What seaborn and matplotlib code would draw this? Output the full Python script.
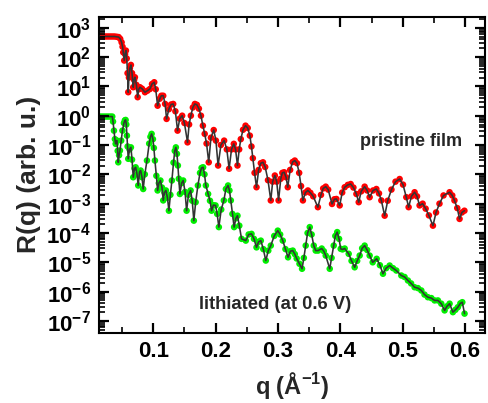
import numpy as np
import pandas as pd
import matplotlib
matplotlib.use("Agg")
import matplotlib.pyplot as plt
from matplotlib.ticker import FuncFormatter, LogLocator, MultipleLocator
import seaborn as sns

# X-ray reflectivity of the pristine and lithiated films.
# Reflectivity is given as decimal exponents (log10 R) along the scattering vector q.
q_pristine = [
    0.0135, 0.017, 0.0205, 0.024, 0.0275, 0.031, 0.0345, 0.038, 0.0415, 0.0445,
    0.047, 0.0493, 0.0508, 0.0519, 0.0535, 0.0548, 0.0562, 0.0575, 0.0588, 0.0599,
    0.061, 0.0625, 0.0642, 0.066, 0.0679, 0.0693, 0.0706, 0.073, 0.075, 0.0768,
    0.0786, 0.082, 0.0867, 0.0905, 0.0947, 0.098, 0.1016, 0.104, 0.107, 0.1105,
    0.113, 0.116, 0.119, 0.1214, 0.125, 0.1285, 0.132, 0.1355, 0.139, 0.1425,
    0.1464, 0.150, 0.155, 0.1575, 0.1603, 0.1635, 0.1667, 0.170, 0.1732, 0.1765,
    0.1796, 0.1825, 0.1855, 0.189, 0.1925, 0.197, 0.2005, 0.204, 0.2085, 0.2137,
    0.218, 0.2217, 0.2255, 0.2292, 0.232, 0.2351, 0.2378, 0.2404, 0.244, 0.248,
    0.2515, 0.2549, 0.2575, 0.2597, 0.2625, 0.2656, 0.269, 0.2725, 0.276, 0.2795,
    0.284, 0.2885, 0.2915, 0.295, 0.298, 0.301, 0.3045, 0.307, 0.310, 0.313,
    0.3157, 0.3195, 0.3235, 0.327, 0.3305, 0.334, 0.337, 0.340, 0.344, 0.348,
    0.352, 0.3565, 0.364, 0.369, 0.3725, 0.3766, 0.3805, 0.3867, 0.3905, 0.3937,
    0.399, 0.403, 0.407, 0.412, 0.4166, 0.421, 0.4258, 0.4295, 0.4335, 0.439,
    0.443, 0.447, 0.4525, 0.4578, 0.462, 0.4658, 0.4711, 0.476, 0.482, 0.4885,
    0.4951, 0.5005, 0.5058, 0.5095, 0.514, 0.5191, 0.523, 0.5271, 0.532, 0.5368,
    0.542, 0.5485, 0.5535, 0.559, 0.5655, 0.5752, 0.5795, 0.583, 0.5875, 0.5912,
    0.595, 0.599]
log_R_pristine = [
    2.70, 2.70, 2.70, 2.70, 2.70, 2.70, 2.70, 2.70, 2.69, 2.68,
    2.62, 2.50, 2.35, 2.16, 1.88, 2.10, 2.22, 1.95, 1.45, 0.80,
    1.30, 1.62, 1.73, 1.45, 0.97, 1.22, 1.31, 1.05, 0.63, 0.90,
    0.97, 0.92, 0.80, 0.85, 0.91, 1.08, 1.14, 0.90, 0.34, 0.58,
    0.68, 0.68, 0.40, -0.11, 0.22, 0.38, 0.40, 0.15, -0.51, -0.10,
    0.00, -0.25, -0.91, -0.30, 0.00, 0.28, 0.40, 0.37, 0.24, 0.00,
    -0.34, -0.62, -0.95, -1.59, -0.75, -0.49, -0.85, -1.70, -1.00, -0.85,
    -1.15, -1.81, -1.15, -0.96, -1.15, -1.70, -1.15, -0.80, -0.48, -0.34,
    -0.42, -0.68, -1.05, -1.45, -1.95, -2.44, -1.85, -1.62, -1.59, -1.75,
    -2.20, -2.89, -2.25, -2.04, -2.25, -2.89, -2.15, -1.95, -1.93, -2.10,
    -2.44, -1.85, -1.58, -1.53, -1.62, -1.95, -2.40, -2.89, -2.62, -2.55,
    -2.63, -2.75, -3.12, -2.70, -2.48, -2.42, -2.52, -3.01, -2.85, -2.84,
    -3.06, -2.62, -2.44, -2.36, -2.33, -2.45, -2.67, -2.95, -2.58, -2.42,
    -2.55, -2.78, -2.55, -2.50, -2.65, -2.89, -3.41, -2.90, -2.52, -2.25,
    -2.16, -2.35, -2.78, -3.12, -2.75, -2.61, -2.75, -3.06, -3.00, -3.17,
    -3.40, -3.75, -3.30, -3.00, -2.72, -2.61, -2.72, -2.89, -3.15, -3.52,
    -3.30, -3.24]

q_lithiated = [
    0.0135, 0.017, 0.0205, 0.024, 0.0275, 0.031, 0.0343, 0.0355, 0.037, 0.0385,
    0.0397, 0.0408, 0.0418, 0.043, 0.0439, 0.0452, 0.0466, 0.0486, 0.0506, 0.053,
    0.0545, 0.0557, 0.0568, 0.0578, 0.0589, 0.0599, 0.062, 0.0642, 0.066, 0.0679,
    0.070, 0.0718, 0.074, 0.0759, 0.078, 0.0798, 0.082, 0.0839, 0.0865, 0.0899,
    0.0935, 0.0955, 0.0974, 0.0995, 0.101, 0.1027, 0.105, 0.107, 0.109, 0.1115,
    0.114, 0.116, 0.118, 0.1203, 0.1228, 0.1251, 0.1275, 0.1299, 0.1325, 0.1345,
    0.1363, 0.138, 0.1395, 0.141, 0.1427, 0.1455, 0.148, 0.151, 0.1535, 0.1565,
    0.1599, 0.1625, 0.1651, 0.168, 0.1716, 0.175, 0.1775, 0.180, 0.1822, 0.1844,
    0.188, 0.191, 0.1935, 0.1965, 0.1999, 0.2025, 0.2052, 0.209, 0.2132, 0.2165,
    0.220, 0.2222, 0.2244, 0.227, 0.2297, 0.2325, 0.2351, 0.238, 0.2416, 0.2484,
    0.253, 0.2576, 0.2615, 0.2656, 0.269, 0.2725, 0.2765, 0.2805, 0.2845, 0.2885,
    0.294, 0.2997, 0.3035, 0.3077, 0.312, 0.3162, 0.320, 0.3237, 0.327, 0.330,
    0.3345, 0.3386, 0.3415, 0.3445, 0.3475, 0.351, 0.354, 0.3574, 0.3605, 0.3643,
    0.3702, 0.3735, 0.3766, 0.383, 0.386, 0.3894, 0.392, 0.395, 0.398, 0.4006,
    0.4035, 0.407, 0.4134, 0.418, 0.423, 0.427, 0.431, 0.435, 0.439, 0.443,
    0.447, 0.4519, 0.4583, 0.4635, 0.4684, 0.4735, 0.4791, 0.4845, 0.4898, 0.4978,
    0.503, 0.5084, 0.5135, 0.5191, 0.5245, 0.5299, 0.535, 0.5404, 0.546, 0.5512,
    0.5565, 0.5619, 0.5672, 0.571, 0.5752, 0.5805, 0.5845, 0.5885, 0.5925, 0.5956,
    0.5992]
log_R_lithiated = [
    -0.03, -0.03, -0.03, -0.03, -0.03, -0.03, -0.03, -0.20, -0.51, -0.80,
    -0.96, -0.85, -0.85, -1.20, -1.59, -1.35, -1.19, -0.85, -0.51, -0.25,
    -0.16, -0.145, -0.30, -0.68, -1.05, -1.47, -1.15, -1.08, -1.50, -2.10,
    -1.80, -1.76, -2.00, -2.38, -1.92, -1.87, -2.10, -2.50, -2.00, -1.53,
    -0.95, -0.72, -0.62, -0.80, -1.10, -1.53, -2.05, -2.55, -2.30, -2.21,
    -2.45, -2.89, -2.62, -2.55, -2.80, -3.24, -2.70, -2.21, -1.60, -1.20,
    -1.08, -1.30, -1.70, -2.15, -2.67, -2.30, -2.21, -2.60, -3.24, -2.70,
    -2.55, -2.90, -3.58, -2.95, -2.38, -1.95, -1.78, -1.76, -2.00, -2.38,
    -2.67, -2.90, -3.24, -3.05, -3.06, -3.35, -3.80, -3.20, -2.89, -2.50,
    -2.38, -2.55, -2.89, -3.35, -3.80, -3.50, -3.41, -3.75, -4.20, -4.26,
    -4.05, -4.03, -4.20, -4.49, -4.30, -4.26, -4.55, -4.94, -4.60, -4.43,
    -4.10, -3.92, -4.05, -4.26, -4.55, -4.83, -4.62, -4.60, -4.72, -4.87,
    -5.05, -5.22, -4.85, -4.43, -4.00, -3.80, -4.05, -4.43, -4.60, -4.60,
    -4.53, -4.62, -4.77, -5.22, -4.85, -4.43, -4.10, -3.97, -4.20, -4.54,
    -4.56, -4.53, -4.71, -4.95, -5.17, -4.95, -4.77, -4.52, -4.43, -4.58,
    -4.77, -5.00, -4.88, -5.10, -5.39, -5.20, -5.11, -5.20, -5.28, -5.45,
    -5.50, -5.62, -5.72, -5.85, -5.88, -5.96, -6.10, -6.19, -6.22, -6.30,
    -6.30, -6.41, -6.64, -6.50, -6.41, -6.70, -6.62, -6.53, -6.40, -6.36,
    -6.75]

pristine = pd.DataFrame({"q": q_pristine, "R": np.power(10.0, log_R_pristine)})
lithiated = pd.DataFrame({"q": q_lithiated, "R": np.power(10.0, log_R_lithiated)})

sns.set_theme(style="ticks")
plt.rcParams.update({
    "font.family": ["Liberation Sans", "DejaVu Sans"],
    "font.weight": "bold",
    "mathtext.fontset": "custom",
    "mathtext.rm": "Liberation Sans:bold",
    "mathtext.bf": "Liberation Sans:bold",
    "mathtext.it": "Liberation Sans:bold",
    "mathtext.default": "bf",
})

fig = plt.figure(figsize=(4.89, 4.03), dpi=100)
ax = fig.add_axes([99.3 / 489, 1 - 332.7 / 403, (485 - 99.3) / 489, (332.7 - 16.7) / 403])

for df, col in [(pristine, "#ff0000"), (lithiated, "#00ee00")]:
    sns.scatterplot(data=df, x="q", y="R", ax=ax, color=col, s=22,
                    edgecolor="none", linewidth=0, zorder=2, legend=False)
    sns.lineplot(data=df, x="q", y="R", ax=ax, color="#333333", lw=1.15,
                 estimator=None, sort=False, zorder=3, legend=False)

ax.set_yscale("log")
ax.set_xlim(0.0135, 0.632)
ax.set_ylim(10 ** -7.40, 10 ** 3.375)

ax.xaxis.set_major_locator(MultipleLocator(0.1))
ax.xaxis.set_minor_locator(MultipleLocator(0.05))
ax.yaxis.set_major_locator(LogLocator(base=10, numticks=20))
ax.yaxis.set_minor_locator(LogLocator(base=10, subs=np.arange(2, 10), numticks=20))
ax.xaxis.set_major_formatter(FuncFormatter(lambda v, p: f"{v:.1f}"))
ax.yaxis.set_major_formatter(
    FuncFormatter(lambda v, p: r"$\mathbf{10^{%d}}$" % int(round(np.log10(v)))))

for s in ax.spines.values():
    s.set_linewidth(1.5)
    s.set_color("black")

ax.set_xlabel(r"q (Å$^{\mathbf{-1}}$)", fontsize=17, fontweight="bold", labelpad=6)
ax.set_ylabel("R(q) (arb. u.)", fontsize=19, fontweight="bold", labelpad=4)

ax.text(0.513, 0.13, "pristine film", fontsize=13, fontweight="bold",
        ha="center", va="center")
ax.text(0.295, 3.6e-7, "lithiated (at 0.6 V)", fontsize=13.3, fontweight="bold",
        ha="center", va="center")

# inward ticks on all four sides, drawn above the data
ax.tick_params(axis="both", which="both", direction="in", top=True, right=True,
               bottom=True, left=True, color="black")
ax.tick_params(axis="both", which="major", length=7, width=1.6,
               labelsize=16, pad=6, labelcolor="black")
ax.tick_params(axis="both", which="minor", length=4, width=1.2)
ax.xaxis.set_zorder(5)
ax.yaxis.set_zorder(5)

fig.savefig("out.png", dpi=100)
